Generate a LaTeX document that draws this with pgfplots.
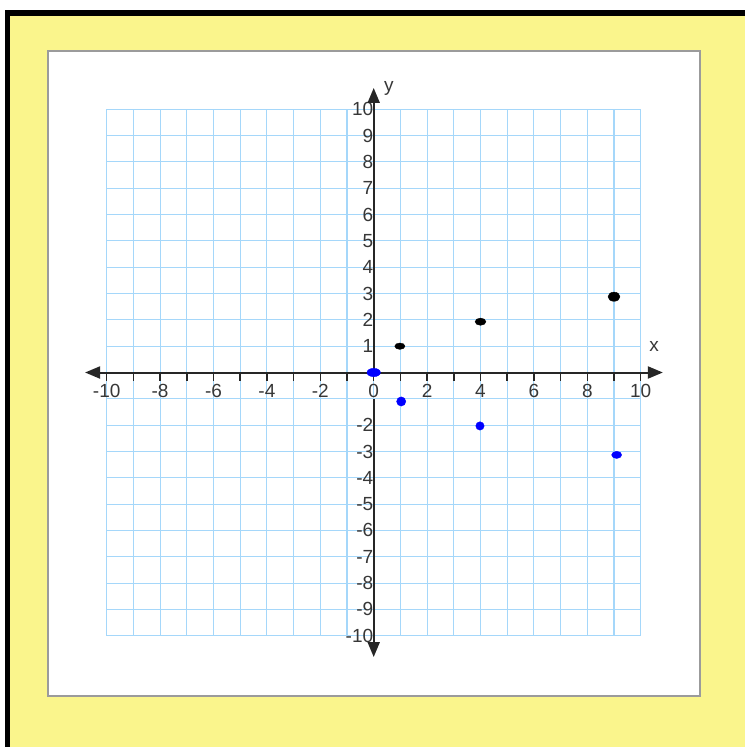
\documentclass[border=0pt]{standalone}
\usepackage{pgfplots}
\pgfplotsset{compat=1.18}
\usepackage{fontspec}
\setmainfont{Liberation Sans}
\usetikzlibrary{arrows.meta}

\definecolor{pagebg}{RGB}{250,245,140}
\definecolor{gridblue}{RGB}{165,215,250}
\definecolor{axisgray}{RGB}{38,38,38}
\definecolor{labelgray}{RGB}{55,55,55}
\definecolor{framegray}{RGB}{155,155,155}

% extra layer so the white band under the x axis sits above the grid
\pgfplotsset{layers/strip set/.define layer set={axis background,axis grid,label strip,axis ticks,axis lines,axis tick labels,main,axis descriptions,axis foreground}{}}

\newcommand{\lblfont}{\fontsize{19}{19}\selectfont}

\begin{document}
\begin{tikzpicture}[x=1pt,y=1pt]
\fill[white] (0,0) rectangle (745,-747);
\fill[black] (5,-10) rectangle (745,-747);
\fill[pagebg] (10,-15.5) rectangle (745,-747);
\draw[framegray, line width=2pt, fill=white] (48,-51) rectangle (699.5,-695.5);

\begin{axis}[
  set layers=strip set,
  at={(373.7pt,-372.5pt)}, anchor=origin,
  x=26.7pt, y=26.32pt,
  xmin=-10, xmax=10, ymin=-10, ymax=10,
  axis lines=middle,
  axis line style={draw=none},
  clip=false,
  xtick={-10,...,10}, ytick={-10,...,10},
  xticklabels={-10,,-8,,-6,,-4,,-2,,0,,2,,4,,6,,8,,10},
  yticklabels={-10,-9,-8,-7,-6,-5,-4,-3,-2,,,1,2,3,4,5,6,7,8,9,10},
  hide obscured x ticks=false, hide obscured y ticks=false,
  grid=major,
  grid style={gridblue, line width=1.1pt},
  major tick length=8pt,
  xtick align=outside, ytick align=inside,
  xtick style={axisgray, line width=1.5pt},
  ytick style={draw=none},
  xticklabel style={anchor=base, yshift=-17pt, inner sep=0pt, font=\lblfont, text=labelgray},
  yticklabel style={anchor=east, inner sep=0.3pt, font=\lblfont, text=labelgray},
  /pgf/number format/assume math mode=true,
]
% white band behind the x tick labels
\addplot[on layer=label strip, fill=white, draw=none]
  coordinates {(-10.3,-0.3) (10.3,-0.3) (10.3,-0.97) (-10.3,-0.97)} -- cycle;

% axes with arrow heads; the y axis leaves room for the 0 label
\draw[axisgray, line width=2pt, {Triangle[length=15pt,width=12pt]}-{Triangle[length=15pt,width=12pt]}]
  (axis cs:-10.81,0) -- (axis cs:10.83,0);
\draw[axisgray, line width=2pt, -{Triangle[length=15pt,width=12pt]}]
  (axis cs:0,-0.15) -- (axis cs:0,10.81);
\draw[axisgray, line width=2pt, -{Triangle[length=15pt,width=12pt]}]
  (axis cs:0,-1.02) -- (axis cs:0,-10.81);
\node[text=labelgray, font=\lblfont] at (axis cs:10.5,0.97) {x};
\node[text=labelgray, font=\lblfont] at (axis cs:0.57,10.81) {y};

% black points
\addplot[only marks, mark=*, black, mark size=3.2pt, mark options={draw=none, xscale=1.6}] coordinates {(0.98,1.0)};
\addplot[only marks, mark=*, black, mark size=3.6pt, mark options={draw=none, xscale=1.5}] coordinates {(4.0,1.93)};
\addplot[only marks, mark=*, black, mark size=4.6pt, mark options={draw=none, xscale=1.3}] coordinates {(9.0,2.88)};

% blue points
\addplot[only marks, mark=*, blue, mark size=4.2pt, mark options={draw=none, xscale=1.6}] coordinates {(0,0)};
\addplot[only marks, mark=*, blue, mark size=4.6pt, mark options={draw=none}] coordinates {(1.03,-1.1)};
\addplot[only marks, mark=*, blue, mark size=4.2pt, mark options={draw=none}] coordinates {(3.98,-2.03)};
\addplot[only marks, mark=*, blue, mark size=3.6pt, mark options={draw=none, xscale=1.4}] coordinates {(9.1,-3.13)};
\end{axis}
\end{tikzpicture}
\end{document}
